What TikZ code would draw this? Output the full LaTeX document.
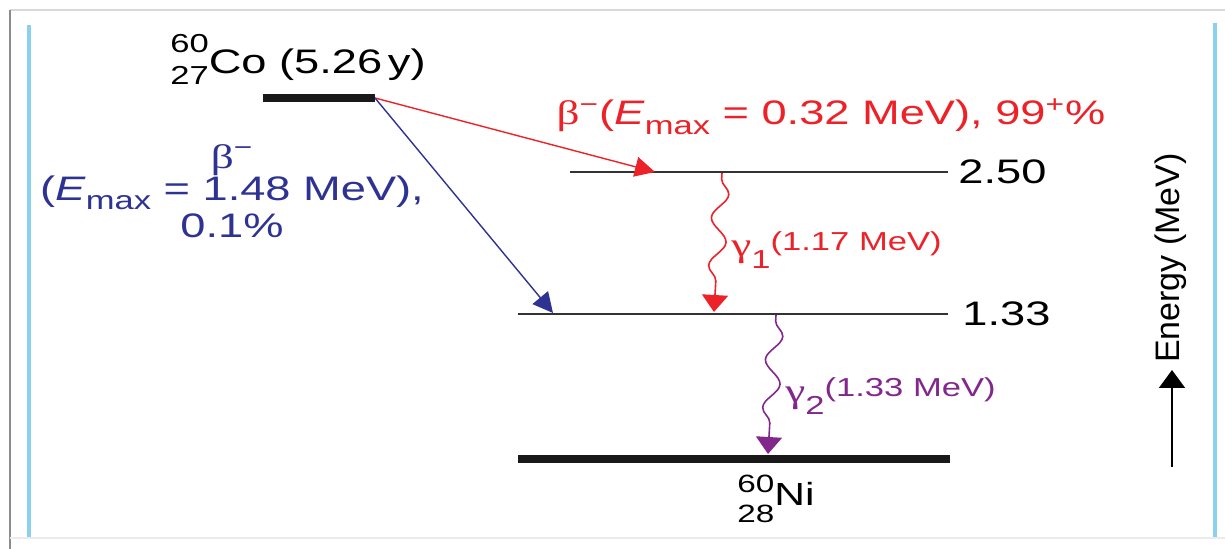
\documentclass[tikz,border=0pt]{standalone}
\usepackage{fontspec}
\setmainfont{Liberation Sans}
\usetikzlibrary{arrows.meta,decorations.pathmorphing}
\newfontfamily\widefont[FakeStretch=1.33]{Liberation Sans}
\newfontfamily\widegreek[FakeStretch=1.33]{Liberation Serif}
\newfontfamily\plainfont{Liberation Sans}
\definecolor{cored}{RGB}{236,34,40}
\definecolor{coblue}{RGB}{46,50,146}
\definecolor{copurple}{RGB}{130,40,140}
\definecolor{frameblue}{RGB}{140,208,240}
\newcommand\smallsz{\fontsize{13}{13}\selectfont}
\newcommand\Emax{\textit{E}\raisebox{-0.28em}{\smallsz max}}
\newcommand\nuc[2]{\rlap{\raisebox{0.62em}{\smallsz #1}}\raisebox{-0.3em}{\smallsz #2}}
\newcommand\nucni[2]{\rlap{\raisebox{0.4em}{\fontsize{12.5}{12.5}\selectfont #1}}\raisebox{-0.56em}{\fontsize{12.5}{12.5}\selectfont #2}}
\newcommand\bet{{\widegreek β}\textsuperscript{−}}
\tikzset{
  txt/.style={inner sep=0pt, font=\widefont\fontsize{17}{20}\selectfont},
  level/.style={line width=0.7pt, draw=black!80},
  gslevel/.style={line width=4pt, draw=black!90},
  betaarrow/.style={line width=0.7pt, -{Triangle[length=10pt,width=10pt]}},
  gammaarrow/.style={line width=0.8pt, -{Triangle[length=8.5pt,width=13pt]},
    decorate, decoration={snake, amplitude=4pt, segment length=24pt, pre length=3pt, post length=12pt}},
}
\begin{document}
\begin{tikzpicture}[x=0.5pt,y=-0.5pt]
\useasboundingbox (0,0) rectangle (1225,549);
% frame
\draw[black!15, line width=0.8pt] (10,10) -- (1225,10);
\draw[black!45, line width=1.2pt] (10,10) -- (10,549);
\draw[black!8, line width=0.6pt] (10,538) -- (1225,538);
\draw[frameblue, line width=1.6pt] (29,25) -- (29,537);
\draw[frameblue, line width=1.6pt] (1215,23) -- (1215,537);
% levels
\coordinate (coL) at (263,98); \coordinate (coR) at (375,98);
\draw[gslevel] (coL) -- (coR);
\coordinate (l250L) at (570,172); \coordinate (l250R) at (948,172);
\draw[level] (l250L) -- (l250R);
\coordinate (l133L) at (518,314); \coordinate (l133R) at (948,314);
\draw[level] (l133L) -- (l133R);
\coordinate (niL) at (518,459); \coordinate (niR) at (950,459);
\draw[gslevel] (niL) -- (niR);
% labels
\node[txt, anchor=base] (colab) at (298,74) {\nuc{60}{27}Co (5.26\,y)};
\node[txt, anchor=west] (e250) at (958,172) {2.50};
\node[txt, anchor=west] (e133) at (962,314) {1.33};
\node[txt, anchor=base, font=\widefont\fontsize{16}{19}\selectfont] (nilab) at (776,505) {\nucni{60}{28}Ni};
\node[txt, text=cored, anchor=base] (redlab) at (831,125) {\bet(\Emax{} = 0.32 MeV), 99\textsuperscript{+}\%};
\node[txt, text=coblue, align=center, anchor=center] (bluelab) at (232,191)
  {\bet\\[-4pt](\Emax{} = 1.48 MeV),\\[-1.5pt]0.1\%};
% beta arrows
\coordinate (redtip) at (655,172);
\coordinate (bluetip) at (553,313);
\draw[betaarrow, cored] (coR) -- (redtip);
\draw[betaarrow, coblue] (coR) -- (bluetip);
% gamma arrows
\coordinate (g1s) at (722,173); \coordinate (g1e) at (714,312);
\draw[gammaarrow, cored] (g1s) -- (g1e);
\node[txt, text=cored, anchor=base west] (g1lab) at (731,257)
  {{\widegreek γ}\raisebox{-0.35em}{\smallsz 1}\raisebox{0.2em}{\smallsz(1.17 MeV)}};
\coordinate (g2s) at (776,315); \coordinate (g2e) at (768,454);
\draw[gammaarrow, copurple] (g2s) -- (g2e);
\node[txt, text=copurple, anchor=base west] (g2lab) at (785,403)
  {{\widegreek γ}\raisebox{-0.35em}{\smallsz 2}\raisebox{0.2em}{\smallsz(1.33 MeV)}};
% energy axis
\coordinate (ea) at (1172,467); \coordinate (eb) at (1172,370);
\draw[line width=0.9pt, -{Triangle[length=9pt,width=13pt]}] (ea) -- (eb);
\node[inner sep=0pt, rotate=90, font=\plainfont\fontsize{17}{20}\selectfont] (elab) at (1171,258) {Energy (MeV)};
\end{tikzpicture}
\end{document}
